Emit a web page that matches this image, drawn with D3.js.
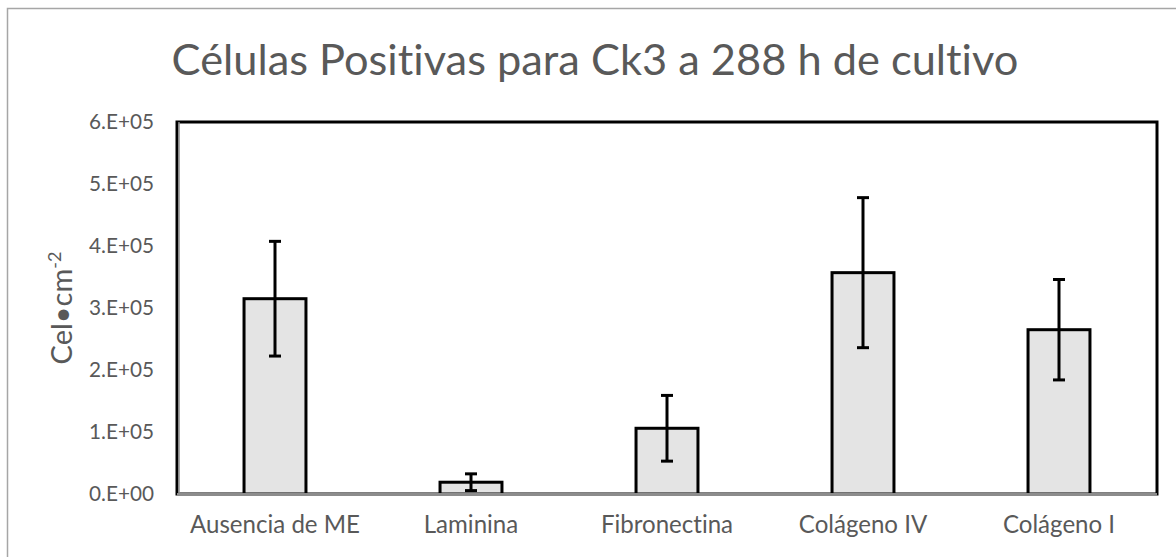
<!DOCTYPE html>
<html>
<head>
<meta charset="utf-8">
<script src="https://cdn.jsdelivr.net/npm/d3@7"></script>
<style>
  html, body { margin: 0; padding: 0; background: #fff; }
  svg { display: block; }
  text { font-family: Lato, "Open Sans", sans-serif; fill: #595959; font-variant-ligatures: none; }
</style>
</head>
<body>
<svg id="chart" width="1176" height="557"></svg>
<script>
const categories = ["Ausencia de ME", "Laminina", "Fibronectina", "Colágeno IV", "Colágeno I"];
const values = [3.15e5, 0.19e5, 1.06e5, 3.57e5, 2.65e5];
const errors = [0.925e5, 0.135e5, 0.53e5, 1.21e5, 0.81e5];
const yTicks = [0, 1e5, 2e5, 3e5, 4e5, 5e5, 6e5];
const yTickLabels = ["0.E+00", "1.E+05", "2.E+05", "3.E+05", "4.E+05", "5.E+05", "6.E+05"];
const titleText = "Células Positivas para Ck3 a 288 h de cultivo";

const svg = d3.select("#chart");
const plot = { left: 177, top: 122, right: 1157, bottom: 494 };

function fitSize(sel, base, target) {
  sel.style("font-size", base + "px");
  const w = sel.node().getComputedTextLength();
  const s = base * target / w;
  sel.style("font-size", s.toFixed(2) + "px");
  return s;
}

// outer chart border
svg.append("rect")
  .attr("x", 7.5).attr("y", 8.5)
  .attr("width", 1200).attr("height", 600)
  .attr("fill", "#fff").attr("stroke", "#a6a6a6").attr("stroke-width", 1.5);

const x = d3.scaleBand().domain(categories).range([plot.left, plot.right]).paddingInner(0.684).paddingOuter(0.342);
const y = d3.scaleLinear().domain([0, 6e5]).range([plot.bottom, plot.top]);

// title
const title = svg.append("text")
  .attr("x", 595).attr("y", 75)
  .attr("text-anchor", "middle")
  .text(titleText);
fitSize(title, 40, 847);

// plot frame (black)
svg.append("rect")
  .attr("x", plot.left).attr("y", plot.top)
  .attr("width", plot.right - plot.left).attr("height", plot.bottom - plot.top)
  .attr("fill", "none").attr("stroke", "#000").attr("stroke-width", 3);

// y axis
const yAxis = d3.axisLeft(y).tickValues(yTicks).tickFormat((d, i) => yTickLabels[i]).tickSize(0).tickPadding(23);
const gy = svg.append("g").attr("transform", `translate(${plot.left},0)`).call(yAxis);
gy.select(".domain").remove();
gy.selectAll("text").style("font-family", "Lato, sans-serif").attr("fill", "#595959");
const tickSize = fitSize(gy.selectAll("text").filter((d, i) => i === 6), 17, 65);
gy.selectAll("text").style("font-size", tickSize.toFixed(2) + "px");

// y-axis gray line next to black frame
svg.append("line").attr("x1", plot.left + 2).attr("x2", plot.left + 2).attr("y1", plot.top).attr("y2", plot.bottom)
  .attr("stroke", "#8c8c8c").attr("stroke-width", 1.5);

// bars
svg.append("g").selectAll("rect").data(categories).join("rect")
  .attr("x", d => x(d))
  .attr("y", (d, i) => y(values[i]))
  .attr("width", x.bandwidth())
  .attr("height", (d, i) => y(0) - y(values[i]))
  .attr("fill", "#e4e4e4").attr("stroke", "#000").attr("stroke-width", 3);

// x axis line (gray)
svg.append("line").attr("x1", plot.left).attr("x2", plot.right).attr("y1", plot.bottom + 0.5).attr("y2", plot.bottom + 0.5)
  .attr("stroke", "#8c8c8c").attr("stroke-width", 3);

// error bars
const eb = svg.append("g");
categories.forEach((c, i) => {
  const cx = x(c) + x.bandwidth() / 2;
  const capW = 12;
  eb.append("line").attr("x1", cx).attr("x2", cx).attr("y1", y(values[i] + errors[i])).attr("y2", y(values[i] - errors[i]))
    .attr("stroke", "#000").attr("stroke-width", 3);
  [values[i] + errors[i], values[i] - errors[i]].forEach(v => {
    eb.append("line").attr("x1", cx - capW / 2).attr("x2", cx + capW / 2).attr("y1", y(v)).attr("y2", y(v))
      .attr("stroke", "#000").attr("stroke-width", 3);
  });
});

// x axis labels
const xAxis = d3.axisBottom(x).tickSize(0).tickPadding(22);
const gx = svg.append("g").attr("transform", `translate(0,${plot.bottom})`).call(xAxis);
gx.select(".domain").remove();
gx.selectAll("text").style("font-family", "Lato, sans-serif").attr("fill", "#595959");
const xs = fitSize(gx.selectAll("text").filter((d, i) => i === 0), 17, 170);
gx.selectAll("text").style("font-size", xs.toFixed(2) + "px");

// y axis title
const yt = svg.append("text")
  .attr("transform", `translate(72,308) rotate(-90)`)
  .attr("text-anchor", "middle")
  .style("font-size", "29px");
yt.append("tspan").text("Cel•cm");
yt.append("tspan").attr("dy", -11).style("font-size", "18px").text("-2");
</script>
</body>
</html>
